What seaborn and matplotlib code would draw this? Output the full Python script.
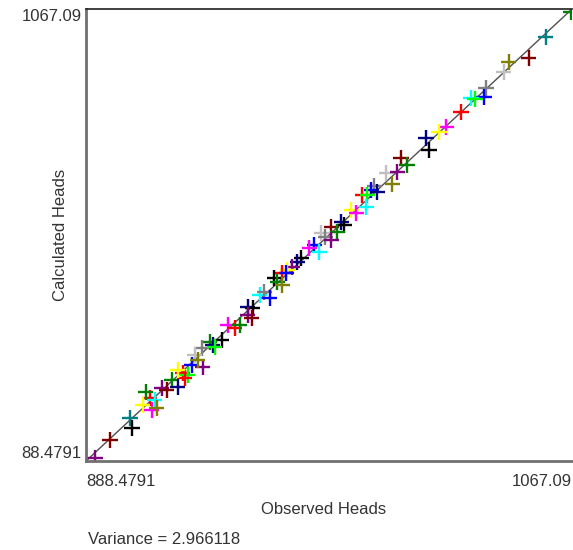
import matplotlib
matplotlib.use("Agg")
import matplotlib.pyplot as plt
import seaborn as sns
import pandas as pd

# ---- data ----
axis_min = 888.4791
axis_max = 1067.09
tick_labels_x = ["888.4791", "1067.09"]
tick_labels_y = ["88.4791", "1067.09"]

observed = [1066.6, 1057.44, 1051.21, 1043.88, 1042.04, 1035.45, 1034.72, 1029.95, 1031.42, 1026.28,
            1020.79, 1018.22, 1013.46, 1014.56, 1004.29, 1006.49, 998.80, 1002.83, 1001.00, 994.40,
            993.30, 990.00, 991.83, 995.50, 991.47, 985.97, 987.80, 982.30, 983.40, 978.64,
            980.84, 974.97, 976.44, 978.64, 972.41, 970.58, 974.24, 967.64, 966.18, 964.35,
            962.51, 960.68, 962.15, 957.75, 958.85, 960.68, 952.25, 954.08, 955.92, 947.85,
            949.69, 947.85, 949.32, 940.52, 943.09, 944.92, 938.32, 933.93, 935.03, 930.99,
            935.76, 928.43, 927.33, 931.36, 929.53, 924.03, 925.86, 920.00, 922.20, 924.76,
            922.20, 916.33, 918.17, 911.94, 913.77, 910.47, 909.37, 912.67, 914.50, 904.61,
            905.34, 897.28, 891.78]
calculated = [1065.8, 1056.04, 1047.75, 1046.16, 1042.21, 1035.89, 1032.33, 1031.94, 1031.54, 1026.40,
              1020.48, 1018.50, 1016.13, 1011.39, 1008.23, 1005.46, 1002.30, 1002.69, 997.95, 997.16,
              995.58, 993.60, 993.60, 994.79, 988.86, 987.68, 986.49, 982.93, 981.75, 980.96,
              978.98, 978.59, 977.00, 975.82, 973.84, 972.66, 971.08, 968.70, 967.12, 965.15,
              963.96, 962.78, 962.78, 960.80, 959.22, 958.04, 954.08, 955.27, 952.90, 949.34,
              948.95, 946.18, 944.99, 942.23, 941.04, 942.23, 936.30, 935.51, 934.32, 933.14,
              933.53, 930.37, 926.42, 925.63, 928.40, 923.26, 922.47, 920.49, 917.72, 921.28,
              924.44, 917.33, 916.54, 913.38, 912.59, 915.75, 910.61, 908.64, 909.43, 905.47,
              901.52, 896.78, 889.67]
point_colors = ["green", "teal", "maroon", "olive", "silver", "gray", "blue", "cyan", "lime", "red",
                "magenta", "yellow", "navy", "black", "maroon", "green", "silver", "purple", "olive", "gray",
                "blue", "red", "lime", "navy", "cyan", "yellow", "magenta", "navy", "black", "maroon",
                "green", "silver", "gray", "purple", "blue", "magenta", "cyan", "black", "navy", "purple",
                "yellow", "red", "blue", "black", "green", "olive", "cyan", "gray", "blue", "navy",
                "black", "purple", "maroon", "magenta", "red", "green", "black", "green", "navy", "gray",
                "lime", "silver", "blue", "purple", "olive", "red", "lime", "green", "navy", "red",
                "yellow", "purple", "maroon", "red", "cyan", "green", "yellow", "magenta", "olive", "teal",
                "black", "maroon", "purple"]
variance_text = "Variance = 2.966118"

palette = {"red": "#FF0000", "lime": "#00FF00", "green": "#008000", "blue": "#0000FF",
           "navy": "#000080", "black": "#000000", "maroon": "#800000", "purple": "#800080",
           "magenta": "#FF00FF", "yellow": "#FFFF00", "cyan": "#00FFFF", "teal": "#008080",
           "olive": "#808000", "gray": "#808080", "silver": "#C0C0C0"}

df = pd.DataFrame({"Observed Heads": observed, "Calculated Heads": calculated, "c": point_colors})

sns.set_theme(style="white")
plt.rcParams["font.family"] = ["Liberation Sans", "DejaVu Sans"]

AX_W = 486
fig = plt.figure(figsize=(5.73, 5.5), dpi=100)
ax = fig.add_axes([86 / 573, 1 - 461 / 550, AX_W / 573, 452 / 550])

ax.plot([axis_min, axis_max], [axis_min, axis_max], color="#505050", lw=1.0, zorder=1)
sns.scatterplot(data=df, x="Observed Heads", y="Calculated Heads", hue="c", palette=palette,
                marker="+", s=121, linewidth=1.7, legend=False, ax=ax, zorder=2)

ax.set_xlim(axis_min, axis_max)
ax.set_ylim(axis_min, axis_max)

ax.set_xticks([axis_min, axis_max])
ax.set_xticklabels(tick_labels_x)
ax.set_yticks([axis_min, axis_max])
ax.set_yticklabels(tick_labels_y)
ax.tick_params(axis="both", length=0, labelsize=12, colors="#333333")
ax.tick_params(axis="x", pad=9)
ax.tick_params(axis="y", pad=3)
xl = ax.get_xticklabels()
xl[0].set_ha("left")
xl[1].set_ha("right")
yl = ax.get_yticklabels()
yl[0].set_va("bottom")
yl[1].set_va("top")

ax.set_xlabel("Observed Heads", fontsize=12, color="#333333", va="top")
ax.xaxis.set_label_coords((324 - 86) / AX_W, (461 - 502) / 452)
ax.set_ylabel("Calculated Heads", fontsize=12, color="#333333")
ax.yaxis.set_label_coords((68 - 86) / AX_W, 0.5)

for side in ["left", "bottom"]:
    ax.spines[side].set_color("#707070")
    ax.spines[side].set_linewidth(2)
ax.spines["top"].set_color("#202020")
ax.spines["top"].set_linewidth(1.2)
ax.spines["right"].set_visible(False)

fig.text(88 / 573, 1 - 540 / 550, variance_text, fontsize=12, color="#333333", ha="left", va="center")

fig.savefig("out.png", dpi=100)
